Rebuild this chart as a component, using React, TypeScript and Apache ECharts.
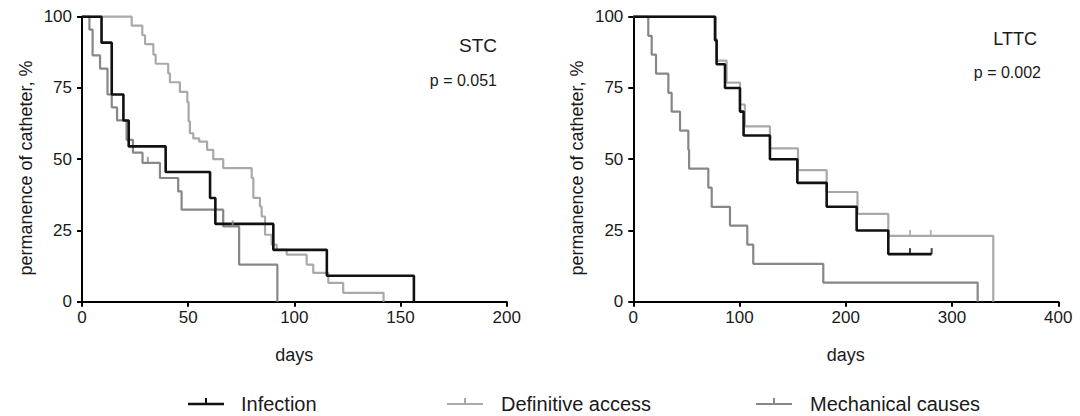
import React, { useEffect, useRef } from "react";
import * as echarts from "echarts";

// ---------- data (days, % of catheters still in place) ----------
const stcInfectionDays = [0, 9.2, 14, 19.5, 22, 39.4, 60.3, 62.8, 90.1, 115.3, 156.3];
const stcInfectionPct = [100, 90.9, 72.7, 63.6, 54.5, 45.5, 36.4, 27.3, 18.2, 9.1, 0];

const stcDefinitiveDays = [0, 23.4, 28.4, 29.7, 33.6, 34.7, 40.6, 41.4, 46.1, 49.6, 50.2, 50.8, 52.4, 55.2, 58.9, 61.8, 66.5, 79.9, 80.7, 83.8, 84.6, 86.2, 89.3, 91.7, 96.4, 105.8, 108.9, 116, 123, 142];
const stcDefinitivePct = [100, 96.9, 93.5, 90.4, 86.7, 83.5, 80.1, 77, 73.6, 70, 63.3, 59.1, 57.3, 56.2, 53.3, 50, 46.9, 43.4, 36.4, 33.4, 29.9, 23.5, 20, 18.2, 16.5, 13, 10.1, 6.6, 3.1, 0];

const stcMechanicalDays = [0, 3.5, 5, 8.5, 12, 14, 16.5, 21, 24, 28.5, 36.7, 45.3, 46.9, 66.5, 74, 92];
const stcMechanicalPct = [100, 95.5, 86.4, 81.8, 72.7, 68.2, 63.6, 56.8, 52.3, 48.7, 43.4, 38.7, 32.3, 26.4, 13, 0];
const stcMechanicalCensored = [[31, 48.7], [71, 26.4]];

const lttcInfectionDays = [0, 76.9, 78.4, 86.3, 100.4, 103.8, 128.6, 154.4, 182, 210.2, 240, 280.8];
const lttcInfectionPct = [100, 91.7, 83.3, 75, 66.7, 58.3, 50, 41.7, 33.3, 25, 16.7, 16.7];
const lttcInfectionCensored = [[260.4, 16.7], [280.8, 16.7]];

const lttcDefinitiveDays = [0, 77.5, 78.5, 87.8, 100.4, 105, 128.6, 155, 182, 211, 240, 338.8];
const lttcDefinitivePct = [100, 92.3, 84.6, 76.9, 69.2, 61.5, 53.8, 46.2, 38.5, 30.8, 23.1, 0];
const lttcDefinitiveCensored = [[260.4, 23.1], [280, 23.1]];

const lttcMechanicalDays = [0, 14.1, 17.3, 21.4, 33, 36.1, 44, 51.8, 52.5, 70.6, 73.8, 91, 107.3, 112.9, 178.8, 324.1];
const lttcMechanicalPct = [100, 93.3, 86.7, 80, 73.3, 66.7, 60, 53.3, 46.7, 40, 33.3, 26.7, 20, 13.3, 6.7, 0];

const yTicks = [0, 25, 50, 75, 100];
const groups = ["Infection", "Definitive access", "Mechanical causes"];
const panelLabels = ["STC", "LTTC"];
const pValues = ["p = 0.051", "p = 0.002"];
const yAxisTitle = "permanence of catheter, %";
const xAxisTitle = "days";

// ---------- styling ----------
const FONT = "'Liberation Sans', Arial, Helvetica, sans-serif";
const TXT = "#1a1a1a";
const BLACK = "#111111";
const LIGHT = "#a9a9a9";
const MID = "#878787";
const colors = [BLACK, LIGHT, MID];
const widths = [2.6, 2.2, 2.2];

const pairs = (d: number[], v: number[]) => d.map((x, i) => [x, v[i]]);

function stepSeries(name: string, idx: number, days: number[], pct: number[], ci: number) {
  return {
    type: "line",
    name,
    step: "end",
    xAxisIndex: idx,
    yAxisIndex: idx,
    data: pairs(days, pct),
    symbol: "none",
    showSymbol: false,
    clip: false,
    lineStyle: { color: colors[ci], width: widths[ci] },
    itemStyle: { color: colors[ci] },
    z: ci === 0 ? 4 : ci === 1 ? 3 : 2,
  };
}

function censorSeries(idx: number, pts: number[][], ci: number) {
  return {
    type: "scatter",
    name: groups[ci] + " censored",
    xAxisIndex: idx,
    yAxisIndex: idx,
    data: pts,
    symbol: "rect",
    symbolSize: [2, 6],
    symbolOffset: [0, -3],
    clip: false,
    itemStyle: { color: colors[ci] },
    z: 5,
  };
}

function xAxis(idx: number, max: number, interval: number) {
  return {
    type: "value",
    gridIndex: idx,
    min: 0,
    max,
    interval,
    name: xAxisTitle,
    nameLocation: "middle",
    nameGap: 44,
    nameTextStyle: { fontSize: 18, color: TXT, fontFamily: FONT },
    axisLine: { show: true, lineStyle: { color: "#000", width: 2 } },
    axisTick: { show: true, length: 5, lineStyle: { color: "#000", width: 2 } },
    axisLabel: { fontSize: 17, color: TXT, fontFamily: FONT, margin: 7 },
    splitLine: { show: false },
  };
}

function yAxis(idx: number) {
  return {
    type: "value",
    gridIndex: idx,
    min: yTicks[0],
    max: yTicks[yTicks.length - 1],
    interval: 25,
    axisLine: { show: true, lineStyle: { color: "#000", width: 2 } },
    axisTick: { show: true, length: 5, lineStyle: { color: "#000", width: 2 } },
    axisLabel: { fontSize: 17, color: TXT, fontFamily: FONT, margin: 10 },
    splitLine: { show: false },
  };
}

function yTitle(x: number) {
  return {
    type: "text",
    x,
    y: 168,
    rotation: Math.PI / 2,
    style: {
      text: yAxisTitle,
      fontSize: 18,
      fontFamily: FONT,
      fill: TXT,
      align: "center",
      verticalAlign: "middle",
    },
  };
}

function legendItem(ci: number, x: number, textX: number, y: number) {
  return [
    {
      type: "line",
      shape: { x1: x, y1: y, x2: x + 36, y2: y },
      style: { stroke: colors[ci], lineWidth: widths[ci] },
    },
    {
      type: "line",
      shape: { x1: x + 18, y1: y - 6, x2: x + 18, y2: y },
      style: { stroke: colors[ci], lineWidth: 2 },
    },
    {
      type: "text",
      x: textX,
      y,
      style: {
        text: groups[ci],
        fontSize: 20,
        fontFamily: FONT,
        fill: TXT,
        align: "left",
        verticalAlign: "middle",
      },
    },
  ];
}

export default function App() {
  const ref = useRef<HTMLDivElement>(null);
  useEffect(() => {
    if (!ref.current) return;
    const chart = echarts.init(ref.current, null, { renderer: "svg" });
    chart.setOption({
      animation: false,
      backgroundColor: "#ffffff",
      textStyle: { fontFamily: FONT },
      grid: [
        { left: 82, top: 16.7, width: 424.7, height: 285 },
        { left: 633.3, top: 16.7, width: 425, height: 285 },
      ],
      xAxis: [xAxis(0, 200, 50), xAxis(1, 400, 100)],
      yAxis: [yAxis(0), yAxis(1)],
      series: [
        stepSeries(groups[2], 0, stcMechanicalDays, stcMechanicalPct, 2),
        stepSeries(groups[1], 0, stcDefinitiveDays, stcDefinitivePct, 1),
        stepSeries(groups[0], 0, stcInfectionDays, stcInfectionPct, 0),
        censorSeries(0, stcMechanicalCensored, 2),
        stepSeries(groups[2], 1, lttcMechanicalDays, lttcMechanicalPct, 2),
        stepSeries(groups[1], 1, lttcDefinitiveDays, lttcDefinitivePct, 1),
        stepSeries(groups[0], 1, lttcInfectionDays, lttcInfectionPct, 0),
        censorSeries(1, lttcDefinitiveCensored, 1),
        censorSeries(1, lttcInfectionCensored, 0),
      ],
      graphic: [
        yTitle(26),
        yTitle(577.3),
        {
          type: "text",
          x: 497,
          y: 45.5,
          style: { text: panelLabels[0], fontSize: 19, fontFamily: FONT, fill: TXT, align: "right", verticalAlign: "middle" },
        },
        {
          type: "text",
          x: 497,
          y: 80,
          style: { text: pValues[0], fontSize: 16, fontFamily: FONT, fill: TXT, align: "right", verticalAlign: "middle" },
        },
        {
          type: "text",
          x: 1037,
          y: 38.5,
          style: { text: panelLabels[1], fontSize: 18, fontFamily: FONT, fill: TXT, align: "right", verticalAlign: "middle" },
        },
        {
          type: "text",
          x: 1041,
          y: 72.5,
          style: { text: pValues[1], fontSize: 16, fontFamily: FONT, fill: TXT, align: "right", verticalAlign: "middle" },
        },
        ...legendItem(0, 188, 241, 404),
        ...legendItem(1, 447, 501, 404),
        ...legendItem(2, 756, 810, 404),
      ],
    });
    return () => chart.dispose();
  }, []);
  return (
    <div
      ref={ref}
      style={{ position: "fixed", left: 0, top: 0, width: 1080, height: 416, background: "#fff" }}
    />
  );
}
